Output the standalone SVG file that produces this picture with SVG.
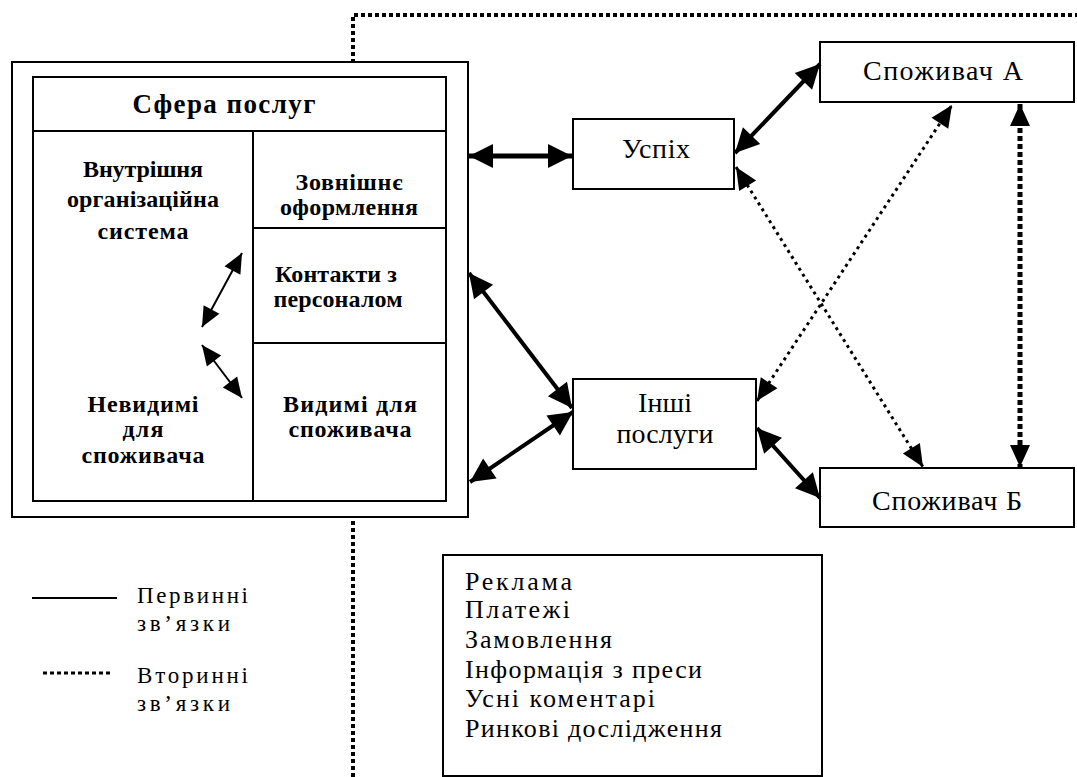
<svg xmlns="http://www.w3.org/2000/svg" width="1077" height="777" viewBox="0 0 1077 777">
<style>
.bx{fill:#fff;stroke:#000;stroke-width:2}
.ln{fill:none;stroke:#000;stroke-width:2}
.b{font-family:"Liberation Serif","Times New Roman",serif;font-weight:bold;font-size:24px;fill:#000;text-anchor:middle}
.h{font-size:27px}
.r{font-family:"Liberation Serif","Times New Roman",serif;font-size:28px;fill:#000;text-anchor:middle}
.t{font-family:"Liberation Serif","Times New Roman",serif;font-size:26px;fill:#000}
.lg{font-family:"Liberation Serif","Times New Roman",serif;font-size:23px;fill:#000}
.thick{fill:none;stroke:#000;stroke-width:4;marker-start:url(#big);marker-end:url(#big)}
.thin{fill:none;stroke:#000;stroke-width:2;marker-start:url(#sm);marker-end:url(#sm)}
.dot{fill:none;stroke:#000;stroke-width:3;stroke-dasharray:3 4;marker-start:url(#md);marker-end:url(#md)}
.bound{fill:none;stroke:#000;stroke-width:4;stroke-dasharray:4 3}
</style>
<defs>
<marker id="big" markerUnits="userSpaceOnUse" markerWidth="24" markerHeight="24" refX="24" refY="12" orient="auto-start-reverse" overflow="visible"><path d="M0,0 L24,12 L0,24 Z" fill="#000"/></marker>
<marker id="md" markerUnits="userSpaceOnUse" markerWidth="22" markerHeight="20" refX="22" refY="10" orient="auto-start-reverse" overflow="visible"><path d="M0,0 L22,10 L0,20 Z" fill="#000"/></marker>
<marker id="sm" markerUnits="userSpaceOnUse" markerWidth="20" markerHeight="18" refX="20" refY="9" orient="auto-start-reverse" overflow="visible"><path d="M0,0 L20,9 L0,18 Z" fill="#000"/></marker>
</defs>
<rect width="1077" height="777" fill="#fff"/>

<path id="boundary" class="bound" d="M353,777 V15 H1077"/>

<g id="sfera">
<rect class="bx" x="12" y="62" width="456" height="455"/>
<rect class="bx" x="33" y="77" width="413" height="424"/>
<path class="ln" d="M33,131 H446 M253,131 V501 M253,228 H446 M253,343 H446"/>
<text class="b h" x="224" y="113" textLength="183">Сфера послуг</text>
<text class="b" x="143" y="177" textLength="120">Внутрішня</text>
<text class="b" x="143" y="207" textLength="152">організаційна</text>
<text class="b" x="143" y="239" textLength="91">система</text>
<text class="b" x="143" y="412" textLength="111">Невидимі</text>
<text class="b" x="143" y="437" textLength="41">для</text>
<text class="b" x="143" y="463" textLength="123">споживача</text>
<text class="b" x="349" y="190" textLength="107">Зовнішнє</text>
<text class="b" x="349" y="215" textLength="138">оформлення</text>
<text class="b" x="336" y="282" textLength="122">Контакти з</text>
<text class="b" x="338" y="307" textLength="129">персоналом</text>
<text class="b" x="350" y="412" textLength="134">Видимі для</text>
<text class="b" x="350" y="437" textLength="123">споживача</text>
</g>

<g id="uspikh">
<rect class="bx" x="573" y="119" width="161" height="70"/>
<text class="r" x="656" y="158" textLength="68">Успіх</text>
</g>

<g id="inshi">
<rect class="bx" x="573" y="379" width="183" height="90"/>
<text class="r" x="665" y="412" textLength="54">Інші</text>
<text class="r" x="665" y="443" textLength="97">послуги</text>
</g>

<g id="spozhyvach-a">
<rect class="bx" x="820" y="42" width="254" height="60"/>
<text class="r" x="943" y="80" textLength="160">Споживач А</text>
</g>

<g id="spozhyvach-b">
<rect class="bx" x="820" y="468" width="254" height="59"/>
<text class="r" x="947" y="510" textLength="150">Споживач Б</text>
</g>

<g id="list">
<rect class="bx" x="443" y="555" width="379" height="221"/>
<text class="t" x="465" y="590" textLength="107">Реклама</text>
<text class="t" x="465" y="618" textLength="105">Платежі</text>
<text class="t" x="465" y="648" textLength="147">Замовлення</text>
<text class="t" x="465" y="678" textLength="237">Інформація з преси</text>
<text class="t" x="465" y="707" textLength="190">Усні коментарі</text>
<text class="t" x="465" y="737" textLength="257">Ринкові дослідження</text>
</g>

<g id="legend">
<line class="ln" x1="32" y1="598" x2="117" y2="598"/>
<text class="lg" x="137" y="603" textLength="111">Первинні</text>
<text class="lg" x="137" y="631" textLength="93">зв’язки</text>
<line x1="43" y1="673" x2="112" y2="673" stroke="#000" stroke-width="3" stroke-dasharray="4 3"/>
<text class="lg" x="137" y="683" textLength="111">Вторинні</text>
<text class="lg" x="137" y="711" textLength="93">зв’язки</text>
</g>

<g id="connectors">
<line x1="469" y1="156" x2="572" y2="156" fill="none" stroke="#000" stroke-width="5" marker-start="url(#big)" marker-end="url(#big)"/>
<line class="thick" x1="469" y1="273" x2="572" y2="408"/>
<line class="thick" x1="470" y1="482" x2="573" y2="412"/>
<line class="thick" x1="735" y1="153" x2="820" y2="64"/>
<line class="thick" x1="757" y1="428" x2="820" y2="498"/>
<line class="dot" x1="736" y1="167" x2="923" y2="467"/>
<line class="dot" x1="757" y1="401" x2="952" y2="105"/>
<line x1="1020" y1="104" x2="1020" y2="467" fill="none" stroke="#000" stroke-width="5" stroke-dasharray="5 3" marker-start="url(#md)" marker-end="url(#md)"/>
<line class="thin" x1="242" y1="253" x2="202" y2="327"/>
<line class="thin" x1="202" y1="345" x2="242" y2="398"/>
</g>
</svg>
